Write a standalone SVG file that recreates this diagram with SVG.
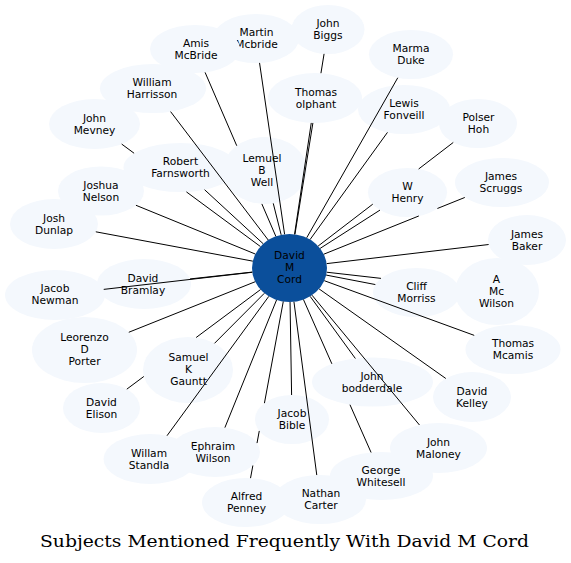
<svg xmlns="http://www.w3.org/2000/svg" width="571" height="563" viewBox="0 0 571 563">
<style>
.n ellipse{fill:#f4f8fd;stroke:none}
.c ellipse{fill:#0b4f9b;stroke:none}
text{font-family:"DejaVu Sans","Liberation Sans",sans-serif;font-size:10.67px;fill:#000;text-anchor:middle}
#edges path{fill:none;stroke:#000;stroke-width:1}
.title{font-family:"DejaVu Serif","Liberation Serif",serif;font-size:17px}
</style>
<rect width="571" height="563" fill="#fff"/>
<g id="nodes">
<g id="n_john_biggs" class="n"><ellipse cx="328" cy="29.5" rx="36.5" ry="24.5"/><text x="328" y="27">John</text><text x="328" y="39">Biggs</text></g>
<g id="n_martin_mcbride" class="n"><ellipse cx="256" cy="38.5" rx="43" ry="24.5"/><text x="256.5" y="36">Martin</text><text x="256.5" y="48">Mcbride</text></g>
<g id="n_amis_mcbride" class="n"><ellipse cx="195" cy="49" rx="45" ry="24"/><text x="196" y="46.5">Amis</text><text x="196" y="58.5">McBride</text></g>
<g id="n_william_harrisson" class="n"><ellipse cx="153" cy="88.5" rx="53" ry="24.5"/><text x="152" y="86">William</text><text x="152" y="98">Harrisson</text></g>
<g id="n_john_mevney" class="n"><ellipse cx="94.5" cy="124" rx="45.5" ry="25"/><text x="94.5" y="121.5">John</text><text x="94.5" y="133.5">Mevney</text></g>
<g id="n_robert_farnsworth" class="n"><ellipse cx="180.5" cy="167.5" rx="57" ry="24.5"/><text x="180.5" y="165">Robert</text><text x="180.5" y="177">Farnsworth</text></g>
<g id="n_thomas_olphant" class="n"><ellipse cx="315" cy="98" rx="47" ry="25"/><text x="316" y="95.5">Thomas</text><text x="316" y="107.5">olphant</text></g>
<g id="n_lemuel_b_well" class="n"><ellipse cx="265" cy="170.5" rx="42" ry="33.5"/><text x="262" y="161.5">Lemuel</text><text x="262" y="173.5">B</text><text x="262" y="185.5">Well</text></g>
<g id="n_marma_duke" class="n"><ellipse cx="411" cy="54.5" rx="42" ry="24.5"/><text x="411" y="52">Marma</text><text x="411" y="64">Duke</text></g>
<g id="n_lewis_fonveill" class="n"><ellipse cx="404" cy="109.5" rx="46" ry="24.5"/><text x="404" y="107">Lewis</text><text x="404" y="119">Fonveill</text></g>
<g id="n_polser_hoh" class="n"><ellipse cx="478" cy="123.5" rx="39" ry="24.5"/><text x="478.5" y="121">Polser</text><text x="478.5" y="133">Hoh</text></g>
<g id="n_james_scruggs" class="n"><ellipse cx="502" cy="182.5" rx="47" ry="24.5"/><text x="501" y="180">James</text><text x="501" y="192">Scruggs</text></g>
<g id="n_w_henry" class="n"><ellipse cx="407.5" cy="192.5" rx="39.5" ry="24.5"/><text x="407.5" y="190">W</text><text x="407.5" y="202">Henry</text></g>
<g id="n_james_baker" class="n"><ellipse cx="527" cy="240" rx="39" ry="25"/><text x="527" y="237.5">James</text><text x="527" y="249.5">Baker</text></g>
<g id="n_a_mc_wilson" class="n"><ellipse cx="497" cy="291.5" rx="42" ry="33.5"/><text x="496.5" y="282.5">A</text><text x="496.5" y="294.5">Mc</text><text x="496.5" y="306.5">Wilson</text></g>
<g id="n_cliff_morriss" class="n"><ellipse cx="416.5" cy="292.5" rx="43.5" ry="24.5"/><text x="416.5" y="290">Cliff</text><text x="416.5" y="302">Morriss</text></g>
<g id="n_thomas_mcamis" class="n"><ellipse cx="513" cy="349.5" rx="47.5" ry="24.5"/><text x="513" y="347">Thomas</text><text x="513" y="359">Mcamis</text></g>
<g id="n_david_kelley" class="n"><ellipse cx="472" cy="397" rx="39" ry="25"/><text x="472" y="394.5">David</text><text x="472" y="406.5">Kelley</text></g>
<g id="n_john_bodderdale" class="n"><ellipse cx="372.5" cy="382" rx="60.5" ry="24.5"/><text x="372" y="379.5">John</text><text x="372" y="391.5">bodderdale</text></g>
<g id="n_john_maloney" class="n"><ellipse cx="438.5" cy="448" rx="48.5" ry="25"/><text x="438.5" y="445.5">John</text><text x="438.5" y="457.5">Maloney</text></g>
<g id="n_george_whitesell" class="n"><ellipse cx="381.5" cy="476" rx="51.5" ry="24"/><text x="381" y="473.5">George</text><text x="381" y="485.5">Whitesell</text></g>
<g id="n_jacob_bible" class="n"><ellipse cx="292" cy="419.5" rx="37" ry="24.5"/><text x="292" y="417">Jacob</text><text x="292" y="429">Bible</text></g>
<g id="n_nathan_carter" class="n"><ellipse cx="320" cy="499.5" rx="46" ry="24.5"/><text x="321" y="497">Nathan</text><text x="321" y="509">Carter</text></g>
<g id="n_ephraim_wilson" class="n"><ellipse cx="215" cy="452" rx="45" ry="25"/><text x="213" y="449.5">Ephraim</text><text x="213" y="461.5">Wilson</text></g>
<g id="n_alfred_penney" class="n"><ellipse cx="246" cy="502.5" rx="44" ry="24.5"/><text x="246.5" y="500">Alfred</text><text x="246.5" y="512">Penney</text></g>
<g id="n_willam_standla" class="n"><ellipse cx="150" cy="459" rx="46.5" ry="25"/><text x="149" y="456.5">Willam</text><text x="149" y="468.5">Standla</text></g>
<g id="n_david_elison" class="n"><ellipse cx="101.5" cy="408" rx="38.5" ry="25"/><text x="101.5" y="405.5">David</text><text x="101.5" y="417.5">Elison</text></g>
<g id="n_samuel_k_gauntt" class="n"><ellipse cx="188" cy="370" rx="45" ry="33"/><text x="188.5" y="361">Samuel</text><text x="188.5" y="373">K</text><text x="188.5" y="385">Gauntt</text></g>
<g id="n_leorenzo_d_porter" class="n"><ellipse cx="84.5" cy="350" rx="52.5" ry="33"/><text x="84.5" y="341">Leorenzo</text><text x="84.5" y="353">D</text><text x="84.5" y="365">Porter</text></g>
<g id="n_jacob_newman" class="n"><ellipse cx="55" cy="295" rx="50" ry="25"/><text x="55" y="292">Jacob</text><text x="55" y="304">Newman</text></g>
<g id="n_david_bramlay" class="n"><ellipse cx="144" cy="284" rx="47" ry="25"/><text x="143" y="281.5">David</text><text x="143" y="293.5">Bramlay</text></g>
<g id="n_josh_dunlap" class="n"><ellipse cx="54" cy="224" rx="44" ry="25"/><text x="54" y="221.5">Josh</text><text x="54" y="233.5">Dunlap</text></g>
<g id="n_joshua_nelson" class="n"><ellipse cx="101" cy="191" rx="43" ry="24.5"/><text x="101" y="188.5">Joshua</text><text x="101" y="200.5">Nelson</text></g>
<g id="n_david_m_cord" class="c"><ellipse cx="289.5" cy="268" rx="37.5" ry="34"/><text x="289.5" y="258.5">David</text><text x="289.5" y="270.5">M</text><text x="289.5" y="282.5">Cord</text></g>
</g>
<g id="edges">
<path d="M294.93,234.36L312.9,122.95M320.95,73.2L324.07,53.86"/>
<path d="M284.58,234.29L259.56,62.91"/>
<path d="M275.84,236.34L261.85,203.92M236.74,145.73L205.09,72.39"/>
<path d="M268.21,240.01L170.58,111.61"/>
<path d="M260.42,246.53L186.42,191.88M134.1,153.25L121.66,144.06"/>
<path d="M263.21,243.76L204.58,189.71"/>
<path d="M281.17,234.85L273.25,203.35"/>
<path d="M294.55,234.31L311.26,122.92"/>
<path d="M306.69,237.79L397.77,77.75"/>
<path d="M310.05,239.56L387.48,132.37"/>
<path d="M318.14,246.05L372.78,204.16M418.64,169L453.28,142.45"/>
<path d="M320.14,248.4L380.01,210.09"/>
<path d="M323.78,254.21L418.85,215.96M437.4,208.49L464.79,197.47"/>
<path d="M326.69,263.62L488.64,244.52"/>
<path d="M326.71,272.21L380.97,278.36"/>
<path d="M326.18,275.08L375.35,284.56"/>
<path d="M324.29,280.69L474.21,335.36"/>
<path d="M319.07,288.9L445.8,378.48"/>
<path d="M312.01,295.19L419.47,425"/>
<path d="M310.16,296.37L355.39,358.5"/>
<path d="M303.46,299.56L331.89,363.85M349.98,404.74L371.1,452.49"/>
<path d="M293.95,301.76L316.78,475.06"/>
<path d="M283.28,301.53L264.43,403.17M259.28,430.93L257.02,443.08M252.86,465.5L250.52,478.13"/>
<path d="M290.06,302L291.6,395"/>
<path d="M276.58,299.92L224.88,427.61"/>
<path d="M268.8,296.35L167,435.73"/>
<path d="M260.52,289.58L196.14,337.52M143.84,376.47L126.8,389.16"/>
<path d="M264.38,293.24L214.53,343.34"/>
<path d="M255.19,281.72L128.79,332.28"/>
<path d="M252.3,272.28L103.73,289.39"/>
<path d="M252.27,272.09L190.03,278.94"/>
<path d="M252.77,261.14L95.8,231.81"/>
<path d="M255.31,254.03L135.95,205.28"/>
</g>
<text class="title" x="284.5" y="547" textLength="489" lengthAdjust="spacingAndGlyphs">Subjects Mentioned Frequently With David M Cord</text>
</svg>
